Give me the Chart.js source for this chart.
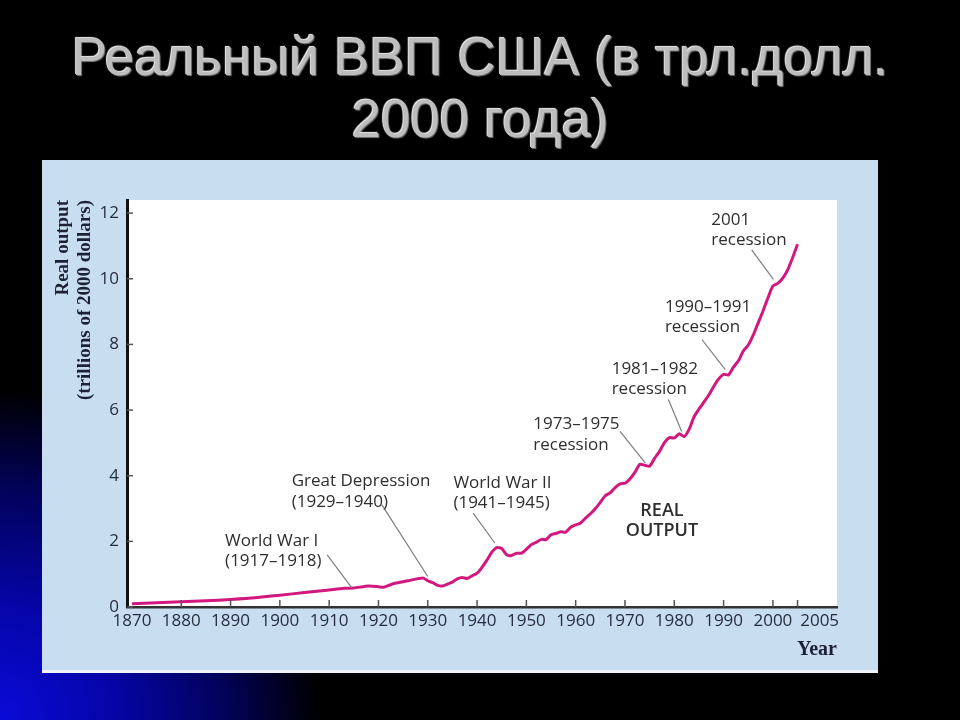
<!DOCTYPE html>
<html>
<head>
<meta charset="utf-8">
<script src="https://cdn.jsdelivr.net/npm/chart.js@4.4.1/dist/chart.umd.min.js"></script>
<style>
  html, body { margin: 0; padding: 0; }
  body {
    width: 960px; height: 720px; position: relative; overflow: hidden;
    background: radial-gradient(ellipse 320px 330px at 0 720px, #0a0ad8 0%, #0505a8 35%, #02025a 70%, #000 100%), #000;
  }
  .title {
    position: absolute; left: 0; top: 26px; width: 960px;
    text-align: center; font-family: "Liberation Sans", Arial, sans-serif;
    font-size: 53px; line-height: 62px; color: #bdbdbd;
    text-shadow: -1px -1px 1px #f4f4f4, 1px 1px 1px #777;
  }
  .panel {
    position: absolute; left: 42px; top: 160px; width: 836px; height: 510px;
    background: #c8def0; border-bottom: 3px solid #eef4fa;
  }
  #gdpChart { position: absolute; left: 0; top: 0; }
</style>
</head>
<body>
<div class="title">Реальный ВВП США (в трл.долл.<br>2000 года)</div>
<div class="panel"><canvas id="gdpChart" width="836" height="510"></canvas></div>
<script>
// real output, trillions of 2000 dollars
const years = [1870, 1875, 1880, 1885, 1890, 1895, 1900, 1905, 1910, 1913, 1915, 1918, 1920, 1921, 1923, 1926,
  1929, 1930, 1931, 1932, 1933, 1934, 1935, 1936, 1937, 1938, 1939, 1940, 1941, 1942, 1943, 1944, 1945,
  1946, 1947, 1948, 1949, 1950, 1951, 1952, 1953, 1954, 1955, 1956, 1957, 1958, 1959, 1960, 1961, 1962,
  1963, 1964, 1965, 1966, 1967, 1968, 1969, 1970, 1971, 1972, 1973, 1974, 1975, 1976, 1977, 1978, 1979,
  1980, 1981, 1982, 1983, 1984, 1985, 1986, 1987, 1988, 1989, 1990, 1991, 1992, 1993, 1994, 1995, 1996,
  1997, 1998, 1999, 2000, 2001, 2002, 2003, 2004, 2005];
const output = [0.10, 0.13, 0.16, 0.19, 0.23, 0.28, 0.36, 0.44, 0.52, 0.57, 0.58, 0.64, 0.62, 0.60, 0.71, 0.80,
  0.88, 0.80, 0.74, 0.66, 0.64, 0.70, 0.76, 0.86, 0.90, 0.87, 0.95, 1.03, 1.21, 1.43, 1.67, 1.81, 1.78,
  1.59, 1.57, 1.64, 1.64, 1.76, 1.90, 1.97, 2.06, 2.05, 2.20, 2.24, 2.29, 2.28, 2.43, 2.50, 2.56, 2.71,
  2.84, 3.00, 3.19, 3.39, 3.48, 3.64, 3.75, 3.77, 3.90, 4.10, 4.35, 4.32, 4.29, 4.53, 4.74, 5.01, 5.16,
  5.15, 5.28, 5.19, 5.41, 5.79, 6.03, 6.24, 6.46, 6.72, 6.95, 7.09, 7.07, 7.31, 7.50, 7.80, 7.98, 8.28,
  8.65, 9.02, 9.42, 9.78, 9.86, 10.02, 10.27, 10.64, 11.05];

const xTicks = [1870, 1880, 1890, 1900, 1910, 1920, 1930, 1940, 1950, 1960, 1970, 1980, 1990, 2000, 2005];
const yTicks = [0, 2, 4, 6, 8, 10, 12];

// annotation texts, where their first line sits (year, value), and leader lines
const noteText = [
  ['World War I', '(1917–1918)'],
  ['Great Depression', '(1929–1940)'],
  ['World War II', '(1941–1945)'],
  ['REAL', 'OUTPUT'],
  ['1973–1975', 'recession'],
  ['1981–1982', 'recession'],
  ['1990–1991', 'recession'],
  ['2001', 'recession']
];
const noteYear = [1888.9, 1902.4, 1935.2, 1977.5, 1951.4, 1967.3, 1978.1, 1987.5];
const noteValue = [2.02, 3.83, 3.78, 2.94, 5.56, 7.26, 9.14, 11.80];
const leaders = [
  [1909.6, 1.59, 1914.6, 0.58],
  [1920.7, 3.11, 1930.0, 0.93],
  [1939.2, 2.86, 1943.6, 1.95],
  null,
  [1969.0, 5.35, 1974.1, 4.39],
  [1978.8, 6.32, 1981.5, 5.35],
  [1985.6, 8.15, 1990.3, 7.24],
  [1995.7, 10.88, 2000.1, 9.98]
];

const inkColor = '#262d3e';

const chartExtras = {
  id: 'chartExtras',
  beforeDraw(chart) {
    const { ctx, chartArea: a } = chart;
    ctx.save();
    ctx.fillStyle = '#ffffff';
    ctx.fillRect(a.left, a.top, a.right - a.left, a.bottom - a.top);
    ctx.restore();
  },
  afterDraw(chart) {
    const { ctx, chartArea: a } = chart;
    const xs = chart.scales.x, ys = chart.scales.y;
    ctx.save();
    // inward tick marks
    ctx.strokeStyle = '#555';
    ctx.lineWidth = 1.5;
    xTicks.slice(1).forEach(v => {
      const px = xs.getPixelForValue(v);
      ctx.beginPath(); ctx.moveTo(px, a.bottom); ctx.lineTo(px, a.bottom - 7); ctx.stroke();
    });
    yTicks.forEach(v => {
      const py = ys.getPixelForValue(v);
      ctx.beginPath(); ctx.moveTo(a.left, py); ctx.lineTo(a.left + 6, py); ctx.stroke();
    });
    // leader lines
    ctx.strokeStyle = '#7d7d7d';
    ctx.lineWidth = 1.2;
    leaders.forEach(l => {
      if (!l) return;
      ctx.beginPath();
      ctx.moveTo(xs.getPixelForValue(l[0]), ys.getPixelForValue(l[1]));
      ctx.lineTo(xs.getPixelForValue(l[2]), ys.getPixelForValue(l[3]));
      ctx.stroke();
    });
    // annotation text
    ctx.fillStyle = '#2e2e2e';
    ctx.textBaseline = 'middle';
    noteText.forEach((lines, i) => {
      const px = xs.getPixelForValue(noteYear[i]);
      const py = ys.getPixelForValue(noteValue[i]);
      const centred = lines[0] === 'REAL';
      ctx.textAlign = centred ? 'center' : 'left';
      ctx.font = centred ? '600 18px "Open Sans"' : '17px "Open Sans"';
      lines.forEach((t, j) => ctx.fillText(t, px, py + j * 20.5));
    });
    ctx.restore();
  }
};

new Chart(document.getElementById('gdpChart'), {
  type: 'line',
  data: {
    datasets: [{
      data: years.map((y, i) => ({ x: y, y: output[i] })),
      borderColor: '#d2177f',
      borderWidth: 3,
      pointRadius: 0,
      tension: 0.2,
      fill: false
    }]
  },
  options: {
    responsive: false,
    animation: false,
    layout: { padding: { top: 40, right: 41, left: 0, bottom: 0 } },
    plugins: { legend: { display: false }, tooltip: { enabled: false } },
    scales: {
      x: {
        type: 'linear',
        min: 1869,
        max: 2013,
        afterBuildTicks: s => { s.ticks = xTicks.map(v => ({ value: v })); },
        afterFit: s => { s.height = 63; },
        grid: { display: false, drawTicks: false },
        border: { color: '#333', width: 2.5 },
        ticks: {
          autoSkip: false,
          maxRotation: 0,
          padding: 4,
          color: inkColor,
          font: { family: 'Open Sans', size: 17 },
          callback: v => v === 2005 ? '          2005' : String(v)
        },
        title: {
          display: true,
          text: 'Year',
          align: 'end',
          color: '#1c2233',
          font: { family: 'Liberation Serif', size: 20, weight: 'bold' },
          padding: { top: 0, bottom: 8 }
        }
      },
      y: {
        min: 0,
        max: 12.4,
        afterBuildTicks: s => { s.ticks = yTicks.map(v => ({ value: v })); },
        afterFit: s => { s.width = 85; },
        grid: { display: false, drawTicks: false },
        border: { color: '#111', width: 3 },
        ticks: {
          padding: 8,
          color: inkColor,
          font: { family: 'Open Sans', size: 17 }
        },
        title: {
          display: true,
          text: ['Real output', '(trillions of 2000 dollars)'],
          align: 'end',
          color: '#1c2233',
          font: { family: 'Liberation Serif', size: 19, weight: 'bold', lineHeight: 1.16 },
          padding: { top: 10, bottom: 0 }
        }
      }
    }
  },
  plugins: [chartExtras]
});
</script>
</body>
</html>
